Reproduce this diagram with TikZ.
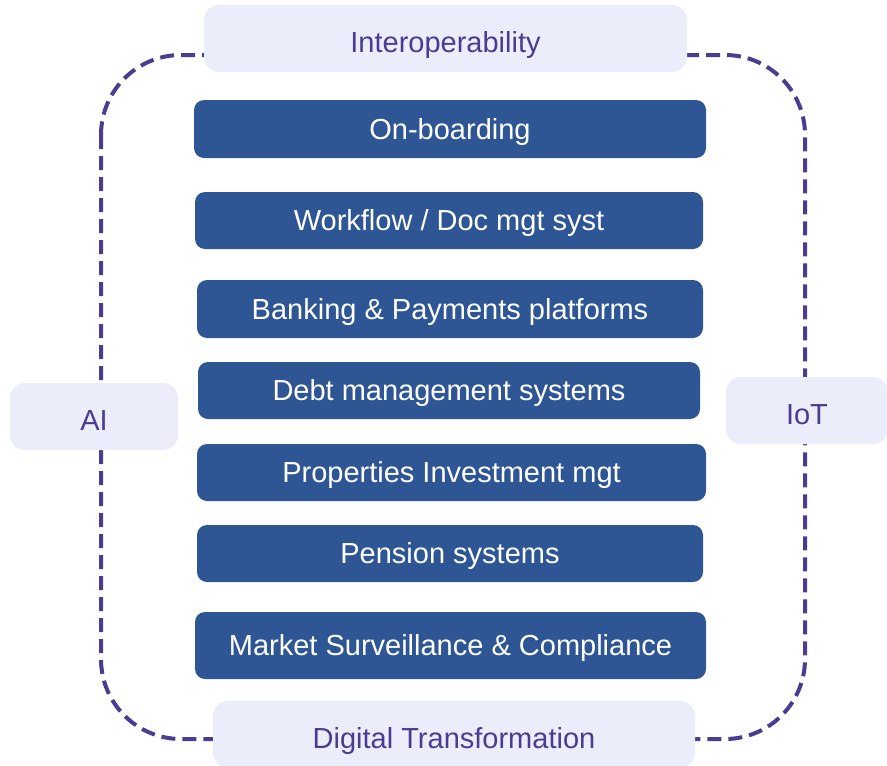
\documentclass[tikz,border=0pt]{standalone}
\usepackage{fontspec}
\setmainfont{Liberation Sans}
\definecolor{boxblue}{HTML}{2E5594}
\definecolor{lav}{HTML}{ECEDFA}
\definecolor{purp}{HTML}{4B3C92}
\tikzset{
  basebox/.style={inner sep=0pt, font=\fontsize{29}{34}\selectfont, text height=20.8pt, text depth=0pt},
  bluebox/.style={basebox, fill=boxblue, rounded corners=10pt, text=white},
  lavbox/.style={basebox, fill=lav, rounded corners=15pt, text=purp, text height=27.8pt},
  frame/.style={draw=purp, line width=4pt, dash pattern=on 14pt off 7pt, rounded corners=80pt}
}
\begin{document}
\begin{tikzpicture}[x=1pt,y=-1pt]
\useasboundingbox (0,0) rectangle (887,766);
\begin{scope}
\clip (0,0) rectangle (887,766);
\draw[frame] (101,55) rectangle (805,739);
\node[lavbox, minimum width=483pt, minimum height=67pt] (inter) at (445.5,38.5) {Interoperability};
\node[lavbox, minimum width=482pt, minimum height=67pt] (dig) at (454,734.5) {Digital Transformation};
\node[lavbox, minimum width=168pt, minimum height=67pt] (ai) at (94,416.5) {AI};
\node[lavbox, minimum width=162pt, minimum height=67pt] (iot) at (807,410.5) {IoT};
\end{scope}
\node[bluebox, minimum width=512pt, minimum height=58pt] (onb) at (450,129) {On-boarding};
\node[bluebox, minimum width=508pt, minimum height=57pt] (wf) at (449,220.5) {Workflow / Doc mgt syst};
\node[bluebox, minimum width=506pt, minimum height=58pt] (bank) at (450,309) {Banking \& Payments platforms};
\node[bluebox, minimum width=502pt, minimum height=57pt] (debt) at (449,390.5) {Debt management systems};
\node[bluebox, minimum width=509pt, minimum height=57pt] (prop) at (451.5,472.5) {Properties Investment mgt};
\node[bluebox, minimum width=506pt, minimum height=57pt] (pens) at (450,553.5) {Pension systems};
\node[bluebox, minimum width=511pt, minimum height=67pt] (mkt) at (450.5,645.5) {Market Surveillance \& Compliance};
\end{tikzpicture}
\end{document}
